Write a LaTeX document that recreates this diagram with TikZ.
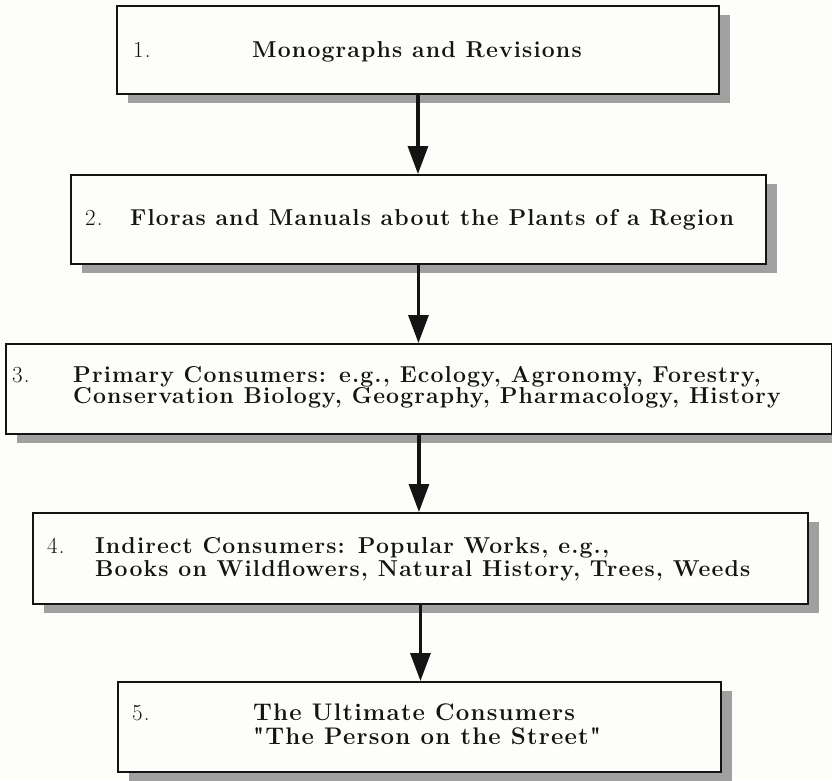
\documentclass[tikz,border=0pt]{standalone}
\usepackage{fontspec}
\newfontfamily\boxfont{Latin Modern Roman}[LetterSpace=5]
\usetikzlibrary{arrows.meta,shadows}
\definecolor{bgc}{RGB}{253,253,250}
\definecolor{shc}{RGB}{160,160,160}
\definecolor{ink}{RGB}{20,20,20}
\begin{document}
\begin{tikzpicture}[x=1pt,y=1pt,
  box/.style={draw=ink,line width=1.9pt,fill=bgc,inner sep=0pt,anchor=north west,
     drop shadow={shadow xshift=11pt,shadow yshift=-9pt,fill=shc,opacity=1}},
  num/.style={anchor=base west,inner sep=0pt,text=ink,font=\boxfont\fontsize{23}{24}\selectfont},
  lbl/.style={anchor=base west,inner sep=0pt,text=ink,font=\boxfont\fontsize{23}{24}\selectfont\bfseries},
  lblbig/.style={anchor=base west,inner sep=0pt,text=ink,font=\boxfont\fontsize{24}{25}\selectfont\bfseries},
  arr/.style={draw=ink,line width=3.2pt,-{Triangle[length=28pt,width=20pt]}}]
\fill[bgc] (0,0) rectangle (832,-780);
\clip (0,0) rectangle (832,-780);
\useasboundingbox (0,0) rectangle (832,-780);

\node[box,minimum width=602pt,minimum height=88pt] (b1) at (116,-5) {};
\node[box,minimum width=695pt,minimum height=89pt] (b2) at (70,-174) {};
\node[box,minimum width=826pt,minimum height=90pt] (b3) at (5,-343) {};
\node[box,minimum width=775pt,minimum height=91pt] (b4) at (32,-512) {};
\node[box,minimum width=603pt,minimum height=90pt] (b5) at (117,-681) {};

\draw[arr] (b1.south) -- (b1.south |- b2.north);
\draw[arr] (b2.south) -- (b2.south |- b3.north);
\draw[arr] (b3.south) -- (b3.south |- b4.north);
\draw[arr] (b4.south) -- (b4.south |- b5.north);

\node[num] (n1) at (133,-57) {1.};
\node[lbl] (t1) at (252,-57) {Monographs and Revisions};

\node[num] (n2) at (85,-225) {2.};
\node[lbl] (t2) at (130,-225) {Floras and Manuals about the Plants of a Region};

\node[num] (n3) at (12,-382) {3.};
\node[lbl] (t3a) at (73,-382) {Primary Consumers: e.g., Ecology, Agronomy, Forestry,};
\node[lbl] (t3b) at (73,-403) {Conservation Biology, Geography, Pharmacology, History};

\node[num] (n4) at (47,-553) {4.};
\node[lbl] (t4a) at (95,-553) {Indirect Consumers: Popular Works, e.g.,};
\node[lbl] (t4b) at (95,-576) {Books on Wildflowers, Natural History, Trees, Weeds};

\node[num] (n5) at (132,-720) {5.};
\node[lblbig] (t5a) at (253,-720) {The Ultimate Consumers};
\node[lblbig] (t5b) at (253,-744) {"The Person on the Street"};
\end{tikzpicture}
\end{document}
